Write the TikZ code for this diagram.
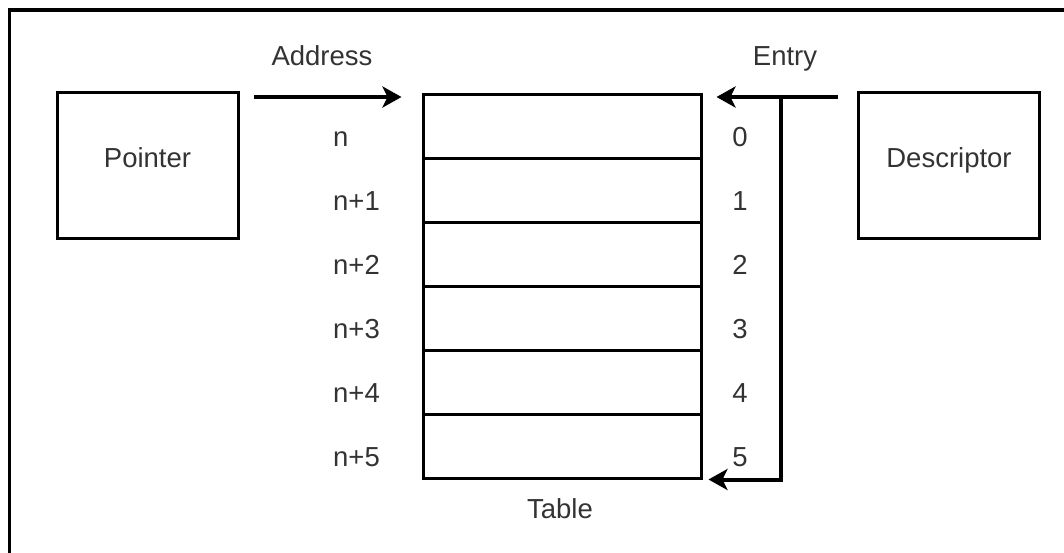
\documentclass[tikz,border=0pt]{standalone}
\usepackage{fontspec}
\setmainfont{Liberation Sans}
\usetikzlibrary{arrows.meta}

\begin{document}
\begin{tikzpicture}[x=1pt, y=-1pt,
    every node/.style={font=\fontsize{27.5}{32}\selectfont, inner sep=0pt, text=black!80},
    box/.style={draw, line width=3pt, minimum width=181pt, minimum height=146pt, text height=0.75em, text depth=0.25em},
    cell/.style={draw, line width=3pt, minimum width=278pt, minimum height=64pt},
    arr/.style={line width=4pt, -{Stealth[length=19pt, width=21pt, inset=5pt]}}]
\useasboundingbox (0,0) rectangle (1064,552);
% Outer frame
\draw[line width=3.5pt] (9.5,10) rectangle (1100,600);

% Side boxes
\node[box] (ptr) at (147.5,165) {Pointer};
\node[box] (desc) at (949,165) {Descriptor};

% Table rows with addresses and entry numbers
\foreach \i/\rowlbl in {0/n, 1/n+1, 2/n+2, 3/n+3, 4/n+4, 5/n+5} {
    \node[cell] (row\i) at (562,126+64*\i) {};
    \node[anchor=base west] (addr\i) at (333,146+64*\i) {\rowlbl};
    \node[anchor=base] (idx\i) at (740,146+64*\i) {\i};
}
\node[anchor=base] (table) at (560,518) {Table};

% Connectors
\coordinate (src) at (254,97);
\coordinate (dst) at (838,97);
\coordinate (bend) at (781,97);
\node[anchor=base] (addrlbl) at (322,65) {Address};
\node[anchor=base] (entrylbl) at (785,65) {Entry};
\draw[arr, shorten >=20pt] (src) -- (src -| row0.west);
\draw[arr, shorten >=14pt] (dst) -- (dst -| row0.east);
\draw[arr, shorten >=6pt] (bend) |- (row5.south east);
\end{tikzpicture}
\end{document}
